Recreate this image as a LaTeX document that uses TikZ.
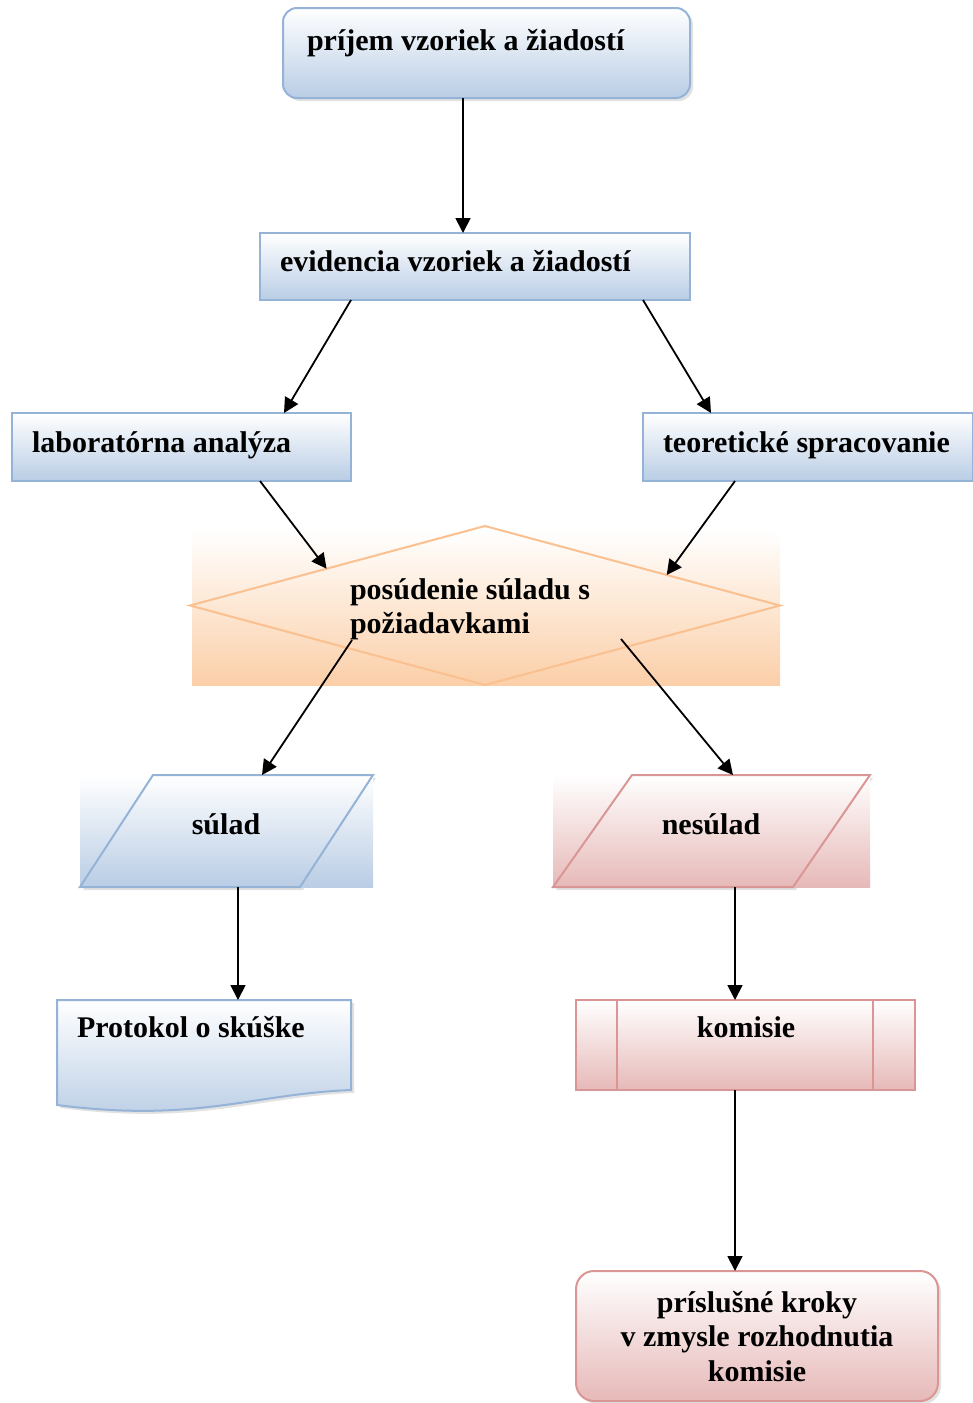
\documentclass[tikz,border=0pt]{standalone}
\usepackage{fontspec}
\setmainfont{Liberation Serif}
\usetikzlibrary{shapes.geometric,arrows.meta,calc,shadows}
\definecolor{blueline}{HTML}{95B3D7}
\definecolor{bluefill}{HTML}{B9CDE5}
\definecolor{pinkline}{HTML}{D99694}
\definecolor{pinkfill}{HTML}{E6B9B8}
\definecolor{orangeline}{HTML}{FAC090}
\definecolor{orangefill}{HTML}{FBCFA8}
\definecolor{shadowgray}{HTML}{E2E2E2}

\begin{document}
\begin{tikzpicture}[x=1pt,y=-1pt,
  every node/.style={font=\fontsize{30}{34.5}\selectfont\bfseries, inner sep=0pt, outer sep=0pt},
  bluebox/.style={draw=blueline, line width=2pt, top color=white, bottom color=bluefill},
  pinkbox/.style={draw=pinkline, line width=2pt, top color=white, bottom color=pinkfill},
  blueshade/.style={top color=white, bottom color=bluefill},
  pinkshade/.style={top color=white, bottom color=pinkfill},
  softshadow/.style={drop shadow={shadow xshift=3pt, shadow yshift=-3pt, fill=shadowgray, opacity=1}},
  flow/.style={-{Triangle[length=15pt,width=15pt]}, line width=1.8pt},
  ltxt/.style={anchor=base west},
  ctxt/.style={anchor=base}]

\useasboundingbox (0,0) rectangle (972,1403);

% ---- process boxes ----
\node[bluebox, softshadow, rounded corners=14pt, minimum width=407pt, minimum height=90pt] (prijem) at (486.5,53) {};
\node[ltxt] (prijem-t) at (307,50) {príjem vzoriek a žiadostí};

\node[bluebox, minimum width=430pt, minimum height=67pt] (evid) at (475,266.5) {};
\node[ltxt] (evid-t) at (280,271) {evidencia vzoriek a žiadostí};

\node[bluebox, minimum width=339pt, minimum height=68pt] (lab) at (181.5,447) {};
\node[ltxt] (lab-t) at (32,452) {laboratórna analýza};

\node[bluebox, minimum width=330pt, minimum height=68pt] (teo) at (808,447) {};
\node[ltxt] (teo-t) at (663,452) {teoretické spracovanie};

% ---- decision ----
\fill[top color=white, bottom color=orangefill] (192,530) rectangle (780,685);
\node[diamond, draw=orangeline, line width=2pt, minimum width=590pt, minimum height=159pt, aspect=3.71] (judge) at (485,605.5) {};
\node[ltxt] (judge-t1) at (350,599) {posúdenie súladu s};
\node[ltxt] (judge-t2) at (350,633) {požiadavkami};

% ---- data (parallelograms) ----
\fill[shadowgray] (156,778) -- (376,778) -- (303,890) -- (83,890) -- cycle;
\node[blueshade, minimum width=293pt, minimum height=112pt] (sulad) at (226.5,831) {};
\draw[blueline, line width=2pt] ($(sulad.north west)+(73,0)$) -- (sulad.north east)
  -- ($(sulad.south east)+(-73,0)$) -- (sulad.south west) -- cycle;
\node[ctxt] (sulad-t) at (226,834) {súlad};

\fill[shadowgray] (635,778) -- (873,778) -- (796,890) -- (556,890) -- cycle;
\node[pinkshade, minimum width=317pt, minimum height=112pt] (nesulad) at (711.5,831) {};
\draw[pinkline, line width=2pt] ($(nesulad.north west)+(79,0)$) -- (nesulad.north east)
  -- ($(nesulad.south east)+(-77,0)$) -- (nesulad.south west) -- cycle;
\node[ctxt] (nesulad-t) at (711,834) {nesúlad};

% ---- document ----
\node[minimum width=294pt, minimum height=90pt] (protokol) at (204,1045) {};
\fill[shadowgray] ($(protokol.north west)+(3,3)$) -- ($(protokol.north east)+(3,3)$)
  -- ($(protokol.south east)+(3,3)$)
  .. controls ($(protokol.south east)+(-97,7)$) and ($(protokol.south west)+(143,36)$)
  .. ($(protokol.south west)+(3,18)$) -- cycle;
\path[bluebox] (protokol.north west) -- (protokol.north east) -- (protokol.south east)
  .. controls ($(protokol.south east)+(-100,4)$) and ($(protokol.south west)+(140,33)$)
  .. ($(protokol.south west)+(0,15)$) -- cycle;
\node[ltxt] (protokol-t) at (77,1037) {Protokol o skúške};

% ---- predefined process ----
\node[pinkbox, minimum width=339pt, minimum height=90pt] (komisie) at (745.5,1045) {};
\draw[pinkline, line width=2pt] ($(komisie.north west)+(41,0)$) -- ($(komisie.south west)+(41,0)$);
\draw[pinkline, line width=2pt] ($(komisie.north east)+(-42,0)$) -- ($(komisie.south east)+(-42,0)$);
\node[ctxt] (komisie-t) at (746,1037) {komisie};

% ---- terminal ----
\node[pinkbox, softshadow, rounded corners=18pt, minimum width=362pt, minimum height=130pt] (kroky) at (757,1336) {};
\node[ctxt] (kroky-t1) at (757,1312) {príslušné kroky};
\node[ctxt] (kroky-t2) at (757,1346.5) {v zmysle rozhodnutia};
\node[ctxt] (kroky-t3) at (757,1381) {komisie};

% ---- connectors ----
\draw[flow] ($(prijem.south west)+(180,0)$) -- ($(evid.north west)+(203,0)$);
\draw[flow] ($(evid.south west)+(91,0)$) -- ($(lab.north west)+(272,0)$);
\draw[flow] ($(evid.south east)+(-47,0)$) -- ($(teo.north west)+(68,0)$);
\draw[flow] ($(lab.south west)+(248,0)$) -- ($(judge.west)!0.463!(judge.north)$);
\draw[flow] ($(teo.south west)+(92,0)$) -- ($(judge.north)!0.616!(judge.east)$);
\draw[flow] ($(judge.center)+(-133,34.5)$) -- ($(sulad.north west)+(182,0)$);
\draw[flow] ($(judge.center)+(136,33.5)$) -- ($(nesulad.north west)+(180,0)$);
\draw[flow] ($(sulad.south west)+(158,0)$) -- ($(protokol.north west)+(181,0)$);
\draw[flow] ($(nesulad.south west)+(182,0)$) -- ($(komisie.north west)+(159,0)$);
\draw[flow] ($(komisie.south west)+(159,0)$) -- ($(kroky.north west)+(159,0)$);

\end{tikzpicture}
\end{document}
